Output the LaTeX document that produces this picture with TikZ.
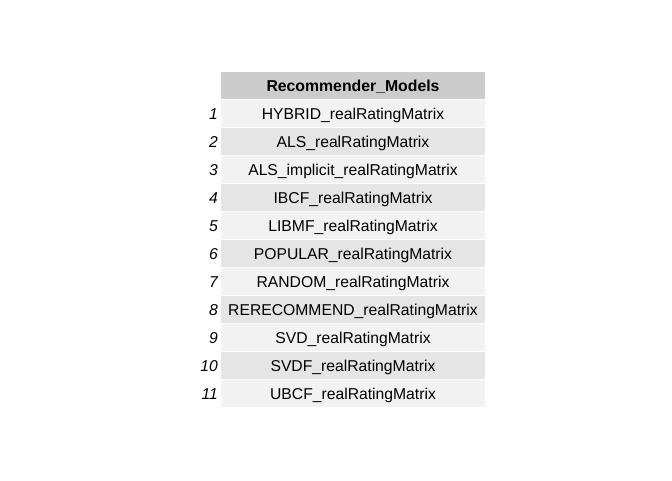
\documentclass[tikz,border=0pt]{standalone}
\usepackage{fontspec}
\setmainfont{Liberation Sans}
\definecolor{hdr}{HTML}{CCCCCC}
\definecolor{oddrow}{HTML}{F2F2F2}
\definecolor{evenrow}{HTML}{E5E5E5}
\tikzset{
  cellbox/.style={inner sep=0pt, minimum width=264pt, minimum height=27pt, anchor=north west},
  celltext/.style={font=\fontsize{15.7}{18}\selectfont, text=black, anchor=base, inner sep=0pt},
  rownum/.style={font=\fontsize{15.7}{18}\selectfont\itshape, anchor=base east, inner sep=0pt},
}
\begin{document}
\begin{tikzpicture}[x=1pt,y=-1pt]
\useasboundingbox (0,0) rectangle (672,480);
\node[cellbox, fill=hdr] (hdrcell) at (221,72) {};
\node[celltext, font=\fontsize{15.8}{18}\selectfont\bfseries] (hdrtext) at (353,91.3) {Recommender\_Models};
\foreach \i/\t in {1/HYBRID\_realRatingMatrix,2/ALS\_realRatingMatrix,3/ALS\_implicit\_realRatingMatrix,4/IBCF\_realRatingMatrix,5/LIBMF\_realRatingMatrix,6/POPULAR\_realRatingMatrix,7/RANDOM\_realRatingMatrix,8/RERECOMMEND\_realRatingMatrix,9/SVD\_realRatingMatrix,10/SVDF\_realRatingMatrix,11/UBCF\_realRatingMatrix}{
  \pgfmathtruncatemacro{\parity}{mod(\i,2)}
  \ifnum\parity=1 \def\fc{oddrow}\else\def\fc{evenrow}\fi
  \node[cellbox, fill=\fc] (cell\i) at (221,72+28*\i) {};
  \node[celltext] (txt\i) at (353,91.7+28*\i) {\t};
  \node[rownum] (num\i) at (218,91.7+28*\i) {\i};
}
\end{tikzpicture}
\end{document}
